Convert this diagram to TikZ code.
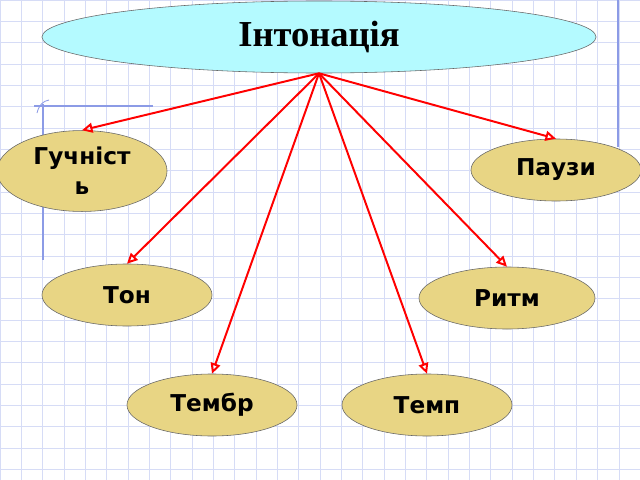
\documentclass[tikz,border=0pt]{standalone}
\usepackage{fontspec}
\setmainfont{Liberation Serif}
\newfontfamily\labelfont{DejaVu Sans}
\usepackage{tikz}
\usetikzlibrary{shapes.geometric, arrows.meta}

\definecolor{gridblue}{RGB}{214,220,246}
\definecolor{marginblue}{RGB}{140,155,230}
\definecolor{topfill}{RGB}{180,250,255}
\definecolor{leaffill}{RGB}{232,213,132}

\begin{document}
\begin{tikzpicture}[x=0.025cm, y=-0.025cm,
        topic/.style={ellipse, draw=gray!80!black, fill=topfill, minimum width=13.85cm, minimum height=1.8cm,
            font=\fontsize{26}{30}\selectfont\bfseries},
        leaf/.style={ellipse, draw=gray!80!black, fill=leaffill, minimum width=4.25cm, minimum height=1.55cm,
            align=center, font=\labelfont\fontsize{16.5}{21.5}\selectfont\bfseries},
        link/.style={red, line width=1.4pt, -{Triangle[open, length=7.5pt, width=7pt]}}]
        \useasboundingbox (0,0) rectangle (640,480);

        % the squared paper
        \fill[white] (0,0) rectangle (640,480);
        \draw[gridblue, step=0.5333cm] (0,0) grid (640,480);
        \draw[marginblue, line width=0.8pt] (43,104) -- (43,260);
        \draw[marginblue, line width=0.8pt] (34,106) -- (153,106);
        \draw[marginblue, line width=0.6pt] (37,113) .. controls (39,105) and (43,101) .. (49,100);
        \draw[marginblue, line width=0.8pt] (618,0) -- (618,147);

        % the main idea
        \node[topic] (intonation) at (319,37) {Інтонація};

        % its parts
        \node[leaf] (loudness) at (82,171)  {Гучніст\\ь};
        \node[leaf] (pauses)   at (556,170) {Паузи};
        \node[leaf] (tone)     at (127,295) {Тон};
        \node[leaf, minimum width=4.4cm] (rhythm) at (507,298) {Ритм};
        \node[leaf] (timbre)   at (212,405) {Тембр};
        \node[leaf] (tempo)    at (427,405) {Темп};

        % the arrows
        \foreach \part in {loudness, pauses, tone, rhythm, timbre, tempo}
            \draw[link] (intonation.south) -- (\part.north);
    \end{tikzpicture}
\end{document}
